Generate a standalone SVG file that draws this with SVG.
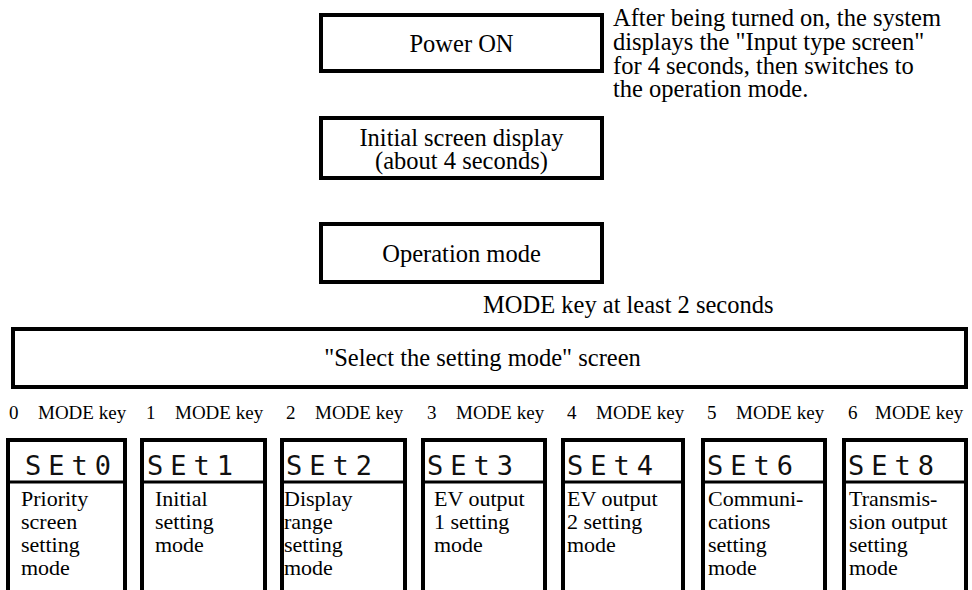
<svg xmlns="http://www.w3.org/2000/svg" width="972" height="590" viewBox="0 0 972 590">
<style>
.box{fill:#fff;stroke:#000;stroke-width:4}
.div{stroke:#000;stroke-width:3}
.t{font-family:"Liberation Serif","Times New Roman",serif;font-size:24.5px;fill:#000}
.b{font-family:"Liberation Serif","Times New Roman",serif;font-size:22px;fill:#000}
.c{text-anchor:middle}
.k{font-family:"Liberation Serif","Times New Roman",serif;font-size:19px;fill:#000}
.seg{font-family:"DejaVu Sans Mono",monospace;font-size:27px;letter-spacing:7px;fill:#111}
</style>
<rect width="972" height="590" fill="#fff"/>
<g id="connectors"/>
<g id="power-on">
<rect class="box" x="321" y="15" width="281" height="56"/>
<text class="t c" x="461.5" y="52">Power ON</text>
</g>
<g id="note">
<text class="t" x="613" y="26">After being turned on, the system</text>
<text class="t" x="613" y="50">displays the "Input type screen"</text>
<text class="t" x="613" y="74">for 4 seconds, then switches to</text>
<text class="t" x="613" y="97">the operation mode.</text>
</g>
<g id="initial-screen">
<rect class="box" x="321" y="118" width="281" height="60"/>
<text class="t c" x="461.5" y="146">Initial screen display</text>
<text class="t c" x="461.5" y="169">(about 4 seconds)</text>
</g>
<g id="operation-mode">
<rect class="box" x="321" y="224" width="281" height="58"/>
<text class="t c" x="461.5" y="262">Operation mode</text>
</g>
<g id="mode-key-label">
<text class="t" x="483" y="313">MODE key at least 2 seconds</text>
</g>
<g id="select-screen">
<rect class="box" x="13" y="329" width="953" height="58"/>
<text class="t c" x="482.5" y="366">"Select the setting mode" screen</text>
</g>
<g id="key-labels">
<text class="k" x="9" y="419">0</text><text class="k" x="38" y="419">MODE key</text>
<text class="k" x="146" y="419">1</text><text class="k" x="175" y="419">MODE key</text>
<text class="k" x="286" y="419">2</text><text class="k" x="315" y="419">MODE key</text>
<text class="k" x="427" y="419">3</text><text class="k" x="456" y="419">MODE key</text>
<text class="k" x="567" y="419">4</text><text class="k" x="596" y="419">MODE key</text>
<text class="k" x="707" y="419">5</text><text class="k" x="736" y="419">MODE key</text>
<text class="k" x="848" y="419">6</text><text class="k" x="875" y="419">MODE key</text>
</g>
<g id="set0">
<rect class="box" x="8" y="440" width="117" height="170"/>
<line class="div" x1="8" y1="482" x2="125" y2="482"/>
<text class="seg" x="25" y="475">SEt0</text>
<text class="b" x="21" y="506">Priority</text>
<text class="b" x="21" y="529">screen</text>
<text class="b" x="21" y="552">setting</text>
<text class="b" x="21" y="575">mode</text>
</g>
<g id="set1">
<rect class="box" x="142" y="440" width="123" height="170"/>
<line class="div" x1="142" y1="482" x2="265" y2="482"/>
<text class="seg" x="147" y="475">SEt1</text>
<text class="b" x="155" y="506">Initial</text>
<text class="b" x="155" y="529">setting</text>
<text class="b" x="155" y="552">mode</text>
</g>
<g id="set2">
<rect class="box" x="282" y="440" width="123" height="170"/>
<line class="div" x1="282" y1="482" x2="405" y2="482"/>
<text class="seg" x="286" y="475">SEt2</text>
<text class="b" x="284" y="506">Display</text>
<text class="b" x="284" y="529">range</text>
<text class="b" x="284" y="552">setting</text>
<text class="b" x="284" y="575">mode</text>
</g>
<g id="set3">
<rect class="box" x="423" y="440" width="122" height="170"/>
<line class="div" x1="423" y1="482" x2="545" y2="482"/>
<text class="seg" x="427" y="475">SEt3</text>
<text class="b" x="434" y="506">EV output</text>
<text class="b" x="434" y="529">1 setting</text>
<text class="b" x="434" y="552">mode</text>
</g>
<g id="set4">
<rect class="box" x="563" y="440" width="120" height="170"/>
<line class="div" x1="563" y1="482" x2="683" y2="482"/>
<text class="seg" x="567" y="475">SEt4</text>
<text class="b" x="567" y="506">EV output</text>
<text class="b" x="567" y="529">2 setting</text>
<text class="b" x="567" y="552">mode</text>
</g>
<g id="set6">
<rect class="box" x="703" y="440" width="122" height="170"/>
<line class="div" x1="703" y1="482" x2="825" y2="482"/>
<text class="seg" x="707" y="475">SEt6</text>
<text class="b" x="708" y="506">Communi-</text>
<text class="b" x="708" y="529">cations</text>
<text class="b" x="708" y="552">setting</text>
<text class="b" x="708" y="575">mode</text>
</g>
<g id="set8">
<rect class="box" x="844" y="440" width="122" height="170"/>
<line class="div" x1="844" y1="482" x2="966" y2="482"/>
<text class="seg" x="848" y="475">SEt8</text>
<text class="b" x="849" y="506">Transmis-</text>
<text class="b" x="849" y="529">sion output</text>
<text class="b" x="849" y="552">setting</text>
<text class="b" x="849" y="575">mode</text>
</g>
</svg>
